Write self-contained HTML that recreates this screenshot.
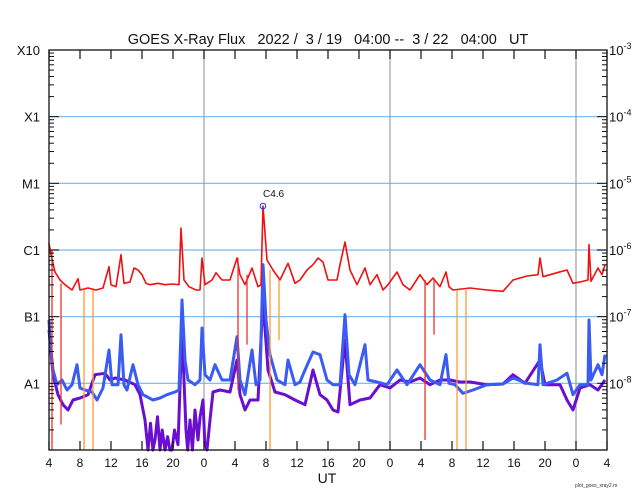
<!DOCTYPE html>
<html><head><meta charset="utf-8">
<style>
html,body{margin:0;padding:0;background:#fff;}
svg{display:block;font-family:"Liberation Sans",sans-serif;}
text{white-space:pre;}
</style></head>
<body>
<svg id="chart" width="640" height="500" viewBox="0 0 640 500" xmlns="http://www.w3.org/2000/svg">
<rect x="0" y="0" width="640" height="500" fill="#fff"/>
<text x="328" y="44" text-anchor="middle" font-size="14.5" fill="#111">GOES X-Ray Flux   2022 /  3 / 19   04:00 --  3 / 22   04:00   UT</text>
<g id="grid"></g>
<g id="series"></g>
<g id="axes"></g>
<text x="327" y="483" text-anchor="middle" font-size="14" fill="#111">UT</text>
<text x="575" y="487" font-size="5" fill="#333">plot_goes_xray2.m</text>
</svg>
<script>
// ---- data (hours after 2022-03-19 04:00 UT, log10 flux W/m^2) ----
const longT = [0,0.26,0.77,1.42,2.06,2.97,3.74,4.0,5.03,6.06,6.97,7.74,8.0,8.65,9.29,9.68,10.45,10.97,11.48,12.0,12.52,13.03,14.06,14.97,16.0,16.77,17.03,17.42,18.06,18.97,19.48,19.74,20.13,21.03,21.55,22.32,23.35,24.26,24.65,25.29,26.19,26.97,27.35,27.61,28.13,28.9,29.81,30.84,31.74,32.39,33.29,34.06,34.71,35.35,36.0,37.16,37.55,38.19,38.84,39.74,40.77,41.42,42.32,43.1,43.74,44.9,45.68,46.58,47.87,48.77,49.55,50.45,51.23,51.61,52.13,54.32,56.52,58.58,59.87,60.77,61.68,63.1,63.35,63.74,65.55,66.84,67.61,68.52,69.55,69.68,69.94,70.84,71.35,71.74];
const longV = [-5.9,-6.07,-6.33,-6.45,-6.52,-6.6,-6.43,-6.6,-6.57,-6.6,-6.57,-6.25,-6.52,-6.55,-6.07,-6.5,-6.48,-6.27,-6.3,-6.37,-6.5,-6.52,-6.5,-6.52,-6.51,-6.52,-5.67,-6.45,-6.55,-6.6,-6.6,-6.12,-6.52,-6.45,-6.34,-6.45,-6.45,-6.12,-6.37,-6.52,-6.27,-6.55,-6.52,-5.34,-6.15,-6.3,-6.45,-6.2,-6.5,-6.45,-6.3,-6.22,-6.12,-6.18,-6.45,-6.45,-6.22,-5.88,-6.3,-6.52,-6.27,-6.52,-6.37,-6.6,-6.52,-6.33,-6.52,-6.6,-6.37,-6.52,-6.42,-6.55,-6.33,-6.55,-6.6,-6.57,-6.6,-6.62,-6.45,-6.42,-6.39,-6.37,-6.12,-6.4,-6.34,-6.3,-6.5,-6.48,-6.45,-5.92,-6.47,-6.27,-6.37,-6.22];
const shortT = [0,0.13,0.52,1.03,1.68,2.32,2.97,3.61,4.0,4.65,5.55,6.19,6.97,7.74,8.13,8.9,9.29,9.68,10.06,10.84,11.48,12.13,13.42,14.32,15.23,16.26,16.77,17.16,17.55,17.94,18.84,19.48,19.74,20.13,20.77,21.42,22.32,23.35,24.26,24.65,25.29,26.19,26.71,27.23,27.61,28.0,28.52,29.42,30.45,30.84,31.74,32.39,33.03,34.06,34.97,35.87,36.65,37.55,38.19,38.71,39.48,40.77,41.16,42.32,43.61,44.9,46.19,47.87,49.16,50.45,51.23,51.61,52.39,53.42,54.71,56.52,58.58,59.87,61.68,63.1,63.35,63.74,65.55,66.84,67.61,68.52,69.55,69.68,69.94,70.84,71.35,71.74];
const shortV = [-7.05,-7.35,-7.8,-8.02,-7.95,-8.1,-8.02,-7.72,-8.07,-8.1,-8.13,-8.25,-8.07,-7.5,-8.02,-8.02,-7.27,-8.02,-8.1,-7.72,-8.02,-8.17,-8.25,-8.22,-8.17,-8.13,-8.1,-6.75,-7.65,-7.95,-8.02,-7.95,-7.17,-7.87,-7.95,-7.72,-7.95,-7.95,-7.3,-7.95,-8.17,-7.5,-8.02,-7.95,-6.22,-7.05,-7.57,-7.95,-8.02,-7.65,-8.02,-7.98,-7.8,-7.53,-7.57,-7.95,-8.02,-8.02,-6.97,-7.87,-8.02,-7.42,-7.95,-7.98,-8.02,-7.8,-8.02,-7.72,-7.95,-8.02,-7.57,-8.0,-8.02,-8.15,-8.1,-8.02,-8.01,-7.92,-8.0,-8.02,-7.42,-8.02,-7.95,-7.85,-8.17,-8.02,-8.02,-7.05,-7.95,-7.72,-7.87,-7.57];
const short2T = [0,0.52,1.16,1.81,2.45,3.1,4.0,5.03,5.94,7.23,7.87,8.52,9.81,11.1,11.74,12.39,12.77,13.1,13.4,13.68,14.0,14.32,14.6,14.97,15.3,15.6,15.87,16.2,16.65,17.16,17.68,17.9,18.19,18.5,18.84,19.23,19.5,19.87,20.1,20.39,20.77,21.16,22.06,23.35,24.26,24.65,25.29,25.94,26.97,27.61,28.26,29.16,30.45,31.74,33.03,34.06,34.97,35.87,36.65,37.29,38.19,38.84,40.13,41.42,42.71,44.0,45.29,46.58,47.87,49.16,50.45,51.74,53.03,54.32,56.52,58.58,59.87,61.42,63.35,64.0,65.94,66.84,67.61,68.52,69.81,70.84,71.74];
const short2V = [-7.2,-7.87,-8.17,-8.32,-8.4,-8.25,-8.22,-8.17,-7.87,-7.85,-7.95,-7.92,-7.95,-8.02,-8.17,-8.55,-9.0,-8.6,-9.0,-8.85,-8.5,-9.0,-8.7,-9.0,-8.8,-9.0,-9.0,-8.7,-8.92,-7.2,-8.7,-9.0,-8.55,-9.0,-8.4,-8.85,-8.5,-8.25,-8.9,-9.0,-8.55,-8.13,-8.1,-8.13,-7.65,-8.17,-8.4,-8.25,-8.25,-6.75,-7.8,-8.13,-8.17,-8.25,-8.32,-7.8,-8.17,-8.25,-8.4,-8.43,-7.35,-8.32,-8.25,-8.22,-8.02,-8.07,-7.95,-7.98,-7.92,-8.02,-7.95,-7.95,-7.98,-7.98,-8.02,-8.01,-7.87,-8.0,-7.65,-8.02,-8.02,-8.25,-8.4,-8.07,-8.02,-8.1,-7.95];
// data dropouts: time, top value, bottom value
const redDropT = [0.39,1.55,24.39,25.55,48.52,49.68];
const redDropTop = [-6.0,-6.5,-6.12,-6.37,-6.45,-6.42];
const redDropBot = [-9.0,-8.62,-8.1,-7.42,-8.85,-7.27];
const orgDropT = [4.52,5.68,28.52,29.68,52.65,53.81];
const orgDropTop = [-6.6,-6.6,-6.3,-6.45,-6.6,-6.6];
const orgDropBot = [-9.0,-9.0,-9.0,-7.35,-9.0,-9.0];
const peakT = [27.61];
const peakV = [-5.34];
const peakLabel = ["C4.6"];
const xTickLabels = ["4","8","12","16","20","0","4","8","12","16","20","0","4","8","12","16","20","0","4"];
const classLabels = ["X10","X1","M1","C1","B1","A1"];
const rightExps = ["-3","-4","-5","-6","-7","-8"];

// ---- scales ----
const X0=49, X1=607, Y0=50, Y1=450, TMAX=72, LTOP=-3, LBOT=-9;
const xs = t => X0 + (t/TMAX)*(X1-X0);
const ys = v => Y0 + (LTOP - Math.max(v,LBOT))/(LTOP-LBOT)*(Y1-Y0);
const NS="http://www.w3.org/2000/svg";
function mk(tag, parent){const e=document.createElementNS(NS,tag);parent.appendChild(e);return e;}
const grid=document.getElementById('grid'), ser=document.getElementById('series'), ax=document.getElementById('axes');

for(let i=1;i<6;i++){
  const l=mk('line',grid);
  
  
  const y=ys(LTOP-i);
  l.setAttribute('x1',X0);l.setAttribute('x2',X1);l.setAttribute('y1',y);l.setAttribute('y2',y);
  l.setAttribute('stroke', i===3?'#a8d4f8':'#6cb8f0');l.setAttribute('stroke-width', i===3?2:1.2);
}
[20,44,68].forEach(t=>{
  const l=mk('line',grid);
  
  
  l.setAttribute('x1',xs(t));l.setAttribute('x2',xs(t));l.setAttribute('y1',Y0);l.setAttribute('y2',Y1);
  l.setAttribute('stroke','#a0a0a0');l.setAttribute('stroke-width',1.2);
});

function series(T,V,color,name,w){
  const p=mk('polyline',ser);
  
  
  p.setAttribute('points',T.map((t,i)=>xs(t).toFixed(1)+','+ys(V[i]).toFixed(1)).join(' '));
  p.setAttribute('fill','none');p.setAttribute('stroke',color);p.setAttribute('stroke-width',w);
  p.setAttribute('stroke-linejoin','round');
}
series(short2T,short2V,'#6a0fd0','short-channel-secondary',3);
series(shortT,shortV,'#3a5cf5','short-channel-primary',3);
series(longT,longV,'#f01010','long-channel',1.6);

function drops(T,Top,Bot,color,name){
  T.forEach((t,i)=>{
    const l=mk('line',ser);
    
    
    l.setAttribute('x1',xs(t));l.setAttribute('x2',xs(t));
    l.setAttribute('y1',ys(Top[i]));l.setAttribute('y2',ys(Bot[i]));
    l.setAttribute('stroke',color);l.setAttribute('stroke-width',1.3);
  });
}
drops(redDropT,redDropTop,redDropBot,'#f03030','long-dropout');
drops(orgDropT,orgDropTop,orgDropBot,'#ff9a30','secondary-long-dropout');

peakT.forEach((t,i)=>{
  const c=mk('circle',ser);
  
  
  c.setAttribute('cx',xs(t));c.setAttribute('cy',ys(peakV[i]));c.setAttribute('r',2.8);
  c.setAttribute('fill','none');c.setAttribute('stroke','#2030ff');c.setAttribute('stroke-width',1);
  const tx=mk('text',ser);
  
  
  tx.setAttribute('x',xs(t));tx.setAttribute('y',ys(peakV[i])-9);tx.setAttribute('font-size','10');tx.setAttribute('fill','#111');
  tx.textContent=peakLabel[i];
});

const fr=mk('rect',ax);


fr.setAttribute('x',X0);fr.setAttribute('y',Y0);fr.setAttribute('width',X1-X0);fr.setAttribute('height',Y1-Y0);
fr.setAttribute('fill','none');fr.setAttribute('stroke','#111');fr.setAttribute('stroke-width',1.3);

xTickLabels.forEach((lab,i)=>{
  const x=xs(i*4);
  [[Y0,Y0+9],[Y1,Y1-9]].forEach(([a,b])=>{
    const l=mk('line',ax);
    
    
    l.setAttribute('x1',x);l.setAttribute('x2',x);l.setAttribute('y1',a);l.setAttribute('y2',b);
    l.setAttribute('stroke','#111');l.setAttribute('stroke-width',1.2);
  });
  const t=mk('text',ax);
  
  
  t.setAttribute('x',x);t.setAttribute('y',467);t.setAttribute('text-anchor','middle');t.setAttribute('font-size','12');t.setAttribute('fill','#111');
  t.textContent=lab;
});

for(let d=0;d<6;d++){
  for(let m=1;m<=9;m++){
    const y=ys(LBOT+(5-d)+Math.log10(m));
    const len=m===1?10:5;
    [[X0,X0+len],[X1,X1-len]].forEach(([a,b])=>{
      const l=mk('line',ax);
      
      
      l.setAttribute('x1',a);l.setAttribute('x2',b);l.setAttribute('y1',y);l.setAttribute('y2',y);
      l.setAttribute('stroke','#111');l.setAttribute('stroke-width',1);
    });
  }
}
classLabels.forEach((lab,i)=>{
  const y=ys(LTOP-i);
  const t=mk('text',ax);
  
  
  t.setAttribute('x',40);t.setAttribute('y',y+5);t.setAttribute('text-anchor','end');t.setAttribute('font-size','13');t.setAttribute('fill','#111');
  t.textContent=lab;
  const r=mk('text',ax);
  
  
  r.setAttribute('x',X1+2);r.setAttribute('y',y+5);r.setAttribute('font-size','13');r.setAttribute('fill','#111');
  const b=mk('tspan',r);b.textContent='10';
  const s=mk('tspan',r);s.setAttribute('dy','-6');s.setAttribute('font-size','9');s.textContent=rightExps[i];
});
</script>
</body></html>
